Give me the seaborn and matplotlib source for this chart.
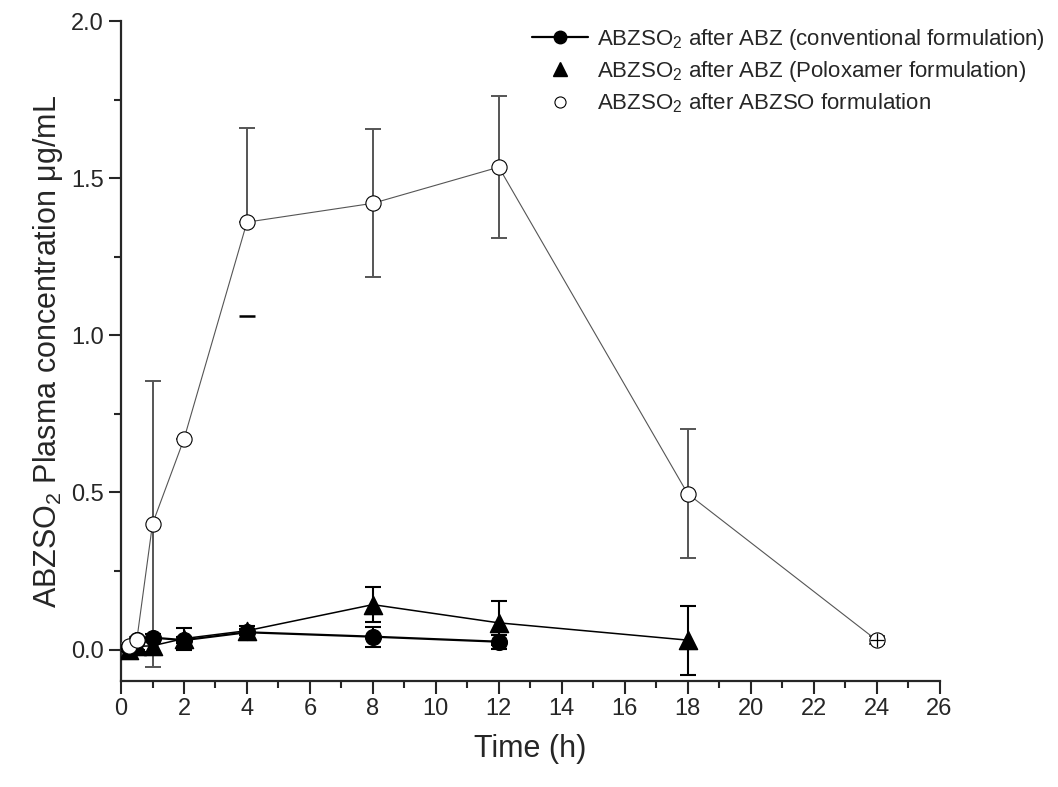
import numpy as np
import pandas as pd
import matplotlib
matplotlib.use("Agg")
import matplotlib.pyplot as plt
import seaborn as sns
from matplotlib.lines import Line2D
from matplotlib.ticker import MultipleLocator

# values
t_conv = [0.25, 0.5, 1, 2, 4, 8, 12]
conv = [0.005, 0.03, 0.038, 0.03, 0.055, 0.041, 0.025]
conv_err = [0.005, 0.01, 0.01, 0.01, 0.01, 0.032, 0.022]

t_polox = [0.25, 0.5, 1, 2, 4, 8, 12, 18]
polox = [0.0, 0.01, 0.012, 0.035, 0.06, 0.143, 0.085, 0.03]
polox_err = [0.005, 0.01, 0.02, 0.035, 0.015, 0.055, 0.07, 0.11]

t_abzso = [0.25, 0.5, 1, 2, 4, 8, 12, 18, 24]
abzso = [0.01, 0.03, 0.40, 0.67, 1.36, 1.42, 1.535, 0.496, 0.03]
abzso_err = [0.01, 0.01, 0.455, 0.0, 0.30, 0.235, 0.227, 0.205, 0.012]

labels = ["ABZSO$_2$ after ABZ (conventional formulation)",
          "ABZSO$_2$ after ABZ (Poloxamer formulation)",
          "ABZSO$_2$ after ABZSO formulation"]

sns.set_theme(style="ticks")
plt.rcParams["font.family"] = ["Liberation Sans", "DejaVu Sans"]
plt.rcParams["mathtext.default"] = "regular"

fig = plt.figure(figsize=(10.58, 7.87), dpi=100)
ax = fig.add_axes([0.1144, 0.1347, 0.7736, 0.8386])

df_c = pd.DataFrame({"t": t_conv, "c": conv})
df_p = pd.DataFrame({"t": t_polox, "c": polox})
df_a = pd.DataFrame({"t": t_abzso, "c": abzso})

# connecting lines
sns.lineplot(data=df_a, x="t", y="c", ax=ax, color="#555555", lw=0.8, zorder=2)
sns.lineplot(data=df_p, x="t", y="c", ax=ax, color="black", lw=1.1, zorder=2)
sns.lineplot(data=df_c, x="t", y="c", ax=ax, color="black", lw=1.6, zorder=2)

# error bars
ax.errorbar(t_conv, conv, yerr=conv_err, fmt="none", ecolor="black",
            elinewidth=1.5, capsize=6, capthick=1.5, zorder=3)
ax.errorbar(t_polox, polox, yerr=polox_err, fmt="none", ecolor="black",
            elinewidth=1.5, capsize=6, capthick=1.5, zorder=3)
# the 4 h lower whisker is not drawn in the original, only its cap
lower = [0 if t == 4 else e for t, e in zip(t_abzso, abzso_err)]
ax.errorbar(t_abzso, abzso, yerr=[lower, abzso_err], fmt="none", ecolor="#555555",
            elinewidth=1.4, capsize=6, capthick=1.4, zorder=3)
i4 = t_abzso.index(4)
ax.plot([4], [abzso[i4] - abzso_err[i4]], marker="_", ms=12, mew=1.8,
        color="black", ls="none", zorder=3)

# markers
sns.scatterplot(data=df_c, x="t", y="c", ax=ax, marker="o", s=130,
                color="black", edgecolor="black", zorder=4)
sns.scatterplot(data=df_p, x="t", y="c", ax=ax, marker="^", s=170,
                color="black", edgecolor="black", zorder=5)
sns.scatterplot(data=df_a, x="t", y="c", ax=ax, marker="o", s=120,
                color="white", edgecolor="black", linewidth=0.8, zorder=6)
ax.plot(t_abzso[-1:], abzso[-1:], marker="+", ms=10, mew=0.9,
        color="black", ls="none", zorder=7)

ax.set_xlim(0, 26)
ax.set_ylim(-0.1, 2.0)
ax.xaxis.set_major_locator(MultipleLocator(2))
ax.xaxis.set_minor_locator(MultipleLocator(1))
ax.yaxis.set_major_locator(MultipleLocator(0.5))
ax.yaxis.set_minor_locator(MultipleLocator(0.25))
ax.yaxis.set_major_formatter(matplotlib.ticker.FormatStrFormatter("%.1f"))
ax.tick_params(which="major", direction="out", length=9, width=1.5, labelsize=17)
ax.tick_params(which="minor", direction="out", length=5, width=1.5)
for s in ["left", "bottom"]:
    ax.spines[s].set_linewidth(1.6)
sns.despine(ax=ax)

ax.set_xlabel("Time (h)", fontsize=22, labelpad=10)
ax.set_ylabel("ABZSO$_2$ Plasma concentration μg/mL", fontsize=22, labelpad=4)

handles = [
    Line2D([], [], color="black", lw=1.6, marker="o", ms=9),
    Line2D([], [], color="black", ls="none", marker="^", ms=10),
    Line2D([], [], color="black", ls="none", marker="o", ms=8,
           markerfacecolor="white", mew=0.8),
]
fig.legend(handles, labels, loc="upper right", bbox_to_anchor=(1.0, 0.983),
           frameon=False, fontsize=16, handlelength=2.5, handletextpad=0.4,
           labelspacing=0.33, borderaxespad=0.2)

fig.savefig("out.png", dpi=100)
